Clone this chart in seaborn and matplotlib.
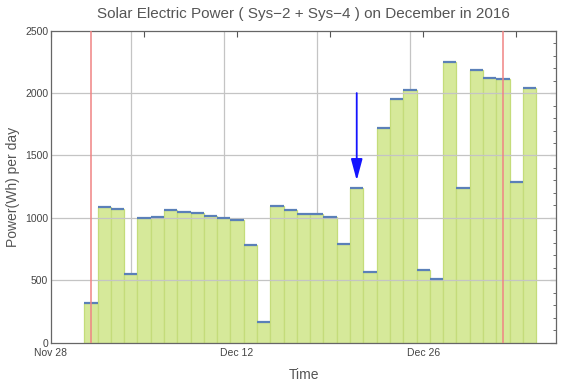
import numpy as np
import pandas as pd
import matplotlib
matplotlib.use("Agg")
import matplotlib.pyplot as plt
import seaborn as sns

# Daily energy, Dec 1 onwards (Wh)
power = [316, 1090, 1071, 553, 999, 1010, 1061, 1050, 1042, 1018, 999, 983,
         783, 168, 1098, 1063, 1031, 1034, 1005, 793, 1242, 569, 1723, 1950,
         2025, 580, 510, 2247, 1240, 2188, 2124, 2113, 1290, 2043]
# day index counted from Nov 28 (Dec 1 = 3)
days = [3 + i for i in range(len(power))]
tick_days = [0, 7, 14, 21, 28, 35]
tick_labels = ["Nov 28", "", "Dec 12", "", "Dec 26", ""]
grid_days = [6, 13, 20, 27]
month_marks = [3, 34]
arrow_day = 23
arrow_from, arrow_to = 2000, 1300

df = pd.DataFrame({"day": days, "power": power})

sns.set_style("white")
plt.rcParams["font.family"] = ["Liberation Sans", "DejaVu Sans"]

fig = plt.figure(figsize=(5.76, 3.83), dpi=100)
ax = fig.add_axes([0.0885, 0.105, 0.877, 0.815])

sns.barplot(data=df, x="day", y="power", native_scale=True, width=1.0,
            color="#d6e99a", saturation=1, edgecolor="#c4dc7a", linewidth=0.9,
            ax=ax, zorder=2)

# blue caps on bar tops
ax.hlines(df["power"], df["day"] - 0.5, df["day"] + 0.5, color="#5b80b8",
          linewidth=1.6, zorder=3)

for d in grid_days:
    ax.axvline(d, color="#c4c4c4", linewidth=0.9, zorder=1)
for v in [500, 1000, 1500, 2000]:
    ax.axhline(v, color="#c4c4c4", linewidth=0.9, zorder=2.5)
for d in month_marks:
    ax.axvline(d, color="#f08484", linewidth=1.1, zorder=4)

ax.annotate("", xy=(arrow_day, arrow_to), xytext=(arrow_day, arrow_from),
            arrowprops=dict(arrowstyle="-|>,head_length=1.3,head_width=0.35",
                            color="#1414ff", lw=1.3, shrinkA=0, shrinkB=0),
            zorder=5)

ax.set_xlim(0, 38)
ax.set_ylim(0, 2500)
ax.set_xticks(tick_days)
ax.set_xticklabels(tick_labels)
ax.set_yticks([0, 500, 1000, 1500, 2000, 2500])
ax.set_yticks(np.arange(0, 2501, 100), minor=True)
ax.tick_params(axis="both", which="major", direction="in", length=4,
               width=0.8, color="#555555", labelsize=7.5, labelcolor="#444444",
               top=True, right=True, pad=2)
ax.tick_params(axis="x", which="major", pad=4)
ax.tick_params(axis="y", which="minor", direction="in", length=2,
               width=0.6, color="#555555", right=True)
for s in ax.spines.values():
    s.set_color("#666666")
    s.set_linewidth(0.9)

ax.set_title("Solar Electric Power ( Sys\u22122 + Sys\u22124 ) on December in 2016",
             fontsize=11, color="#555555", pad=9)
ax.set_xlabel("Time", fontsize=10, color="#555555", labelpad=7)
ax.set_ylabel("Power(Wh) per day", fontsize=10, color="#555555", labelpad=4)

fig.savefig("out.png", dpi=100)
